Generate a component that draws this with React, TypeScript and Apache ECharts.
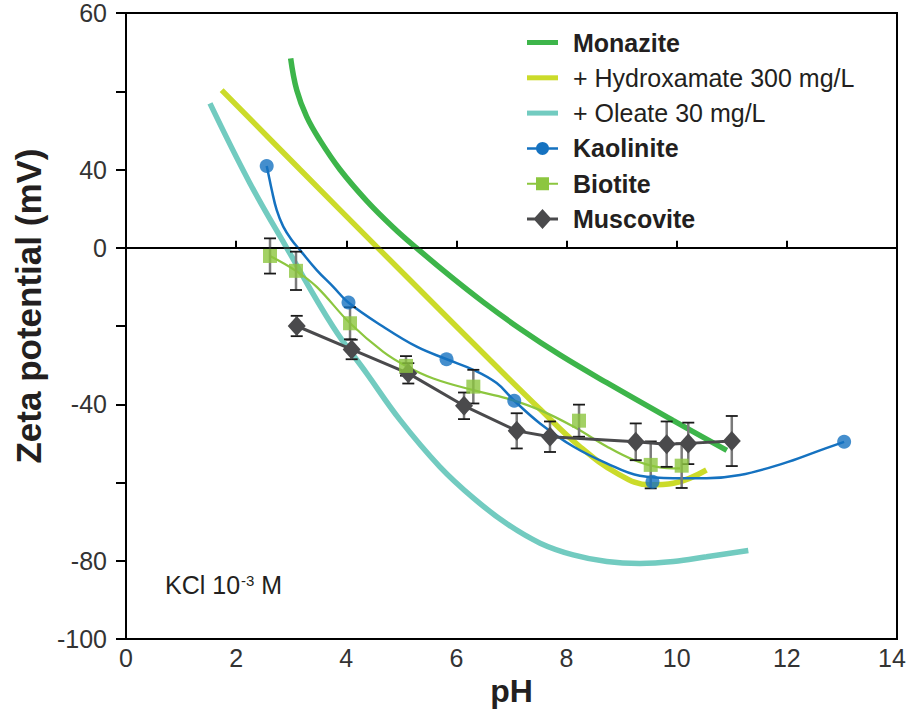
import React, { useEffect, useRef } from 'react';
import * as echarts from 'echarts';

const FONT = "'Liberation Sans', Arial, Helvetica, sans-serif";

// y-axis ticks and the labels printed next to them in the reference
const yTickValues = [-100, -80, -60, -40, -20, 0, 20, 40, 60];
const yTickLabels = ['-100', '-80', '', '-40', '', '0', '40', '', '60'];

// Smooth curves (pH, zeta mV)
const monaziteCurve = [
  [2.99, 48.4], [3.1, 40.3], [3.28, 33.5], [3.52, 27.5], [3.885, 20.0], [4.37, 12.0],
  [4.854, 5.2], [5.279, -0.1], [5.883, -7.2], [6.488, -13.9], [7.155, -20.7], [7.88, -27.4],
  [8.73, -34.5], [9.94, -44.2], [10.91, -51.8],
];
const hydroxamateCurve = [
  [1.737, 40.3], [3.16, 20.0], [4.55, 0.3], [5.7, -15.9], [6.61, -28.7], [7.52, -41.3],
  [8.24, -50.8], [8.91, -57.6], [9.51, -60.6], [9.94, -60.2], [10.54, -56.8],
];
const oleateCurve = [
  [1.525, 36.9], [2.25, 16.5], [2.905, 0.3], [3.76, -20.2], [4.37, -32.1], [4.975, -44.0],
  [5.7, -56.0], [6.31, -64.0], [6.91, -70.5], [7.52, -75.5], [8.12, -78.5], [8.73, -80.2],
  [9.33, -80.7], [9.94, -80.2], [10.54, -79.0], [11.3, -77.4],
];

// Kaolinite: measured points and fitted curve
const kaolinitePoints = [
  [2.555, 20.9], [4.04, -14.0], [5.82, -28.5], [7.05, -39.1], [9.56, -59.8], [13.04, -49.6],
];
const kaoliniteCurve = [
  [2.555, 20.9], [2.584, 19.0], [2.646, 14.8], [2.737, 9.6], [2.856, 5.4], [3.009, 2.0],
  [3.16, -0.6], [3.463, -5.7], [3.764, -10.0], [4.037, -14.0], [4.672, -20.2], [5.279, -25.3],
  [5.823, -28.5], [6.306, -31.2], [6.731, -34.6], [7.051, -39.1], [7.518, -44.9], [8.122, -50.8],
  [8.729, -55.1], [9.33, -58.3], [9.94, -58.9], [10.54, -58.9], [11.15, -58.1], [11.94, -55.1],
  [12.54, -52.1], [13.04, -49.6],
];

// Biotite: measured points, errors and fitted curve
const biotitePoints = [
  [2.615, -2.1], [3.087, -5.9], [4.068, -19.3], [5.084, -30.2], [6.307, -35.5], [8.226, -44.2],
  [9.528, -55.5], [10.09, -55.7],
];
const biotiteErrors = [4.5, 4.9, 4.1, 2.5, 4.3, 4.1, 6.0, 5.7];
const biotiteCurve = [
  [2.615, -2.1], [3.087, -5.9], [3.463, -10.0], [4.068, -19.3], [4.672, -26.6], [5.084, -30.2],
  [5.58, -33.4], [6.307, -36.4], [6.913, -38.5], [7.518, -41.5], [8.122, -45.7], [8.729, -50.8],
  [9.212, -54.2], [9.637, -56.0], [10.06, -56.4],
];

// Muscovite: measured points and errors
const muscovitePoints = [
  [3.1, -20.0], [4.098, -26.0], [5.126, -32.1], [6.138, -40.4], [7.095, -46.8], [7.699, -48.3],
  [9.256, -49.6], [9.818, -50.2], [10.21, -50.0], [11.0, -49.4],
];
const muscoviteErrors = [2.6, 2.5, 2.6, 3.4, 4.5, 3.9, 4.7, 5.8, 5.3, 6.4];

const legendNames = [
  'Monazite', '+ Hydroxamate 300 mg/L', '+ Oleate 30 mg/L', 'Kaolinite', 'Biotite', 'Muscovite',
];
const boldNames = ['Monazite', 'Kaolinite', 'Biotite', 'Muscovite'];

const C_MON = '#3db54a';
const C_HYD = '#cbdb2a';
const C_OLE = '#72cbc0';
const C_KAO = '#1572c0';
const C_BIO = '#8cc63f';
const C_MUS = '#4a4a4c';

function errorBarSeries(name: string, pts: number[][], errs: number[]) {
  return {
    type: 'custom',
    name,
    z: 3,
    dimensions: ['x', 'y', 'e'],
    encode: { x: 0, y: 1 },
    data: pts.map((p, i) => [p[0], p[1], errs[i]]),
    renderItem: (params: any, api: any) => {
      const x = api.value(0);
      const y = api.value(1);
      const e = api.value(2);
      const top = api.coord([x, y + e]);
      const bot = api.coord([x, y - e]);
      const hw = 6;
      return {
        type: 'group',
        children: [
          { type: 'line', shape: { x1: top[0], y1: top[1], x2: bot[0], y2: bot[1] }, style: { stroke: '#7a7a7a', lineWidth: 2.5 } },
          { type: 'line', shape: { x1: top[0] - hw, y1: top[1], x2: top[0] + hw, y2: top[1] }, style: { stroke: '#1a1a1a', lineWidth: 1.8 } },
          { type: 'line', shape: { x1: bot[0] - hw, y1: bot[1], x2: bot[0] + hw, y2: bot[1] }, style: { stroke: '#1a1a1a', lineWidth: 1.8 } },
        ],
      };
    },
  };
}

export default function App() {
  const ref = useRef<HTMLDivElement>(null);
  useEffect(() => {
    const chart = echarts.init(ref.current!, null, { renderer: 'svg' });
    const labelMap: Record<string, string> = {};
    yTickValues.forEach((v, i) => (labelMap[String(v)] = yTickLabels[i]));

    const icons: Record<string, string> = {
      Monazite: 'path://M0,0H31V5H0Z',
      '+ Hydroxamate 300 mg/L': 'path://M0,0H31V5H0Z',
      '+ Oleate 30 mg/L': 'path://M0,0H31V5H0Z',
      Kaolinite: 'path://M0,5.25H31V7.75H0Z M22,6.5A6.5,6.5 0 1 1 9,6.5A6.5,6.5 0 1 1 22,6.5Z',
      Biotite: 'path://M0,6H31V8H0Z M9,0.5H22V13.5H9Z',
      Muscovite: 'path://M0,8.5H31V11.5H0Z M15.5,0L24.5,10L15.5,20L6.5,10Z',
    };

    const option: any = {
      animation: false,
      backgroundColor: '#ffffff',
      grid: {
        left: 126, right: 10, top: 13, bottom: 72,
        show: true, borderColor: '#000', borderWidth: 2, backgroundColor: 'transparent',
        outerBoundsMode: 'none', containLabel: false,
      },
      xAxis: {
        type: 'value', min: 0, max: 14, interval: 2,
        axisLine: { show: true, lineStyle: { color: '#000', width: 2 } },
        axisTick: { show: true, inside: true, length: 7, lineStyle: { color: '#000', width: 2 } },
        axisLabel: {
          fontFamily: FONT, fontSize: 25, color: '#333', margin: 6,
          formatter: (v: number) => (v === 14 ? '{m|14}' : String(v)),
          rich: { m: { fontFamily: FONT, fontSize: 25, color: '#333', padding: [0, 10, 0, 0] } },
        },
        splitLine: { show: false },
        name: 'pH', nameLocation: 'middle', nameGap: 36,
        nameTextStyle: { fontFamily: FONT, fontSize: 32, fontWeight: 'bold', color: '#231f20' },
      },
      yAxis: {
        type: 'value', min: -100, max: 60, interval: 20,
        axisLine: { show: true, lineStyle: { color: '#000', width: 2 } },
        axisTick: { show: true, inside: false, length: 10, lineStyle: { color: '#000', width: 2 } },
        axisLabel: {
          fontFamily: FONT, fontSize: 25, color: '#333', margin: 19,
          formatter: (v: number) => labelMap[String(v)] ?? '',
        },
        splitLine: { show: false },
      },
      legend: {
        orient: 'vertical', left: 527, top: 30, padding: 0,
        itemWidth: 31, itemHeight: 20, itemGap: 10.3, selectedMode: false,
        itemStyle: { borderWidth: 0 },
        data: legendNames.map((n) => ({ name: n, icon: icons[n] })),
        formatter: (name: string) => (boldNames.includes(name) ? `{b|${name}}` : `{r|${name}}`),
        textStyle: {
          fontFamily: FONT, fontSize: 25, color: '#231f20', padding: [0, 0, 0, 10],
          rich: {
            b: { fontFamily: FONT, fontSize: 25, fontWeight: 'bold', color: '#231f20', lineHeight: 25 },
            r: { fontFamily: FONT, fontSize: 25, fontWeight: 'normal', color: '#231f20', lineHeight: 25 },
          },
        },
      },
      graphic: [
        {
          type: 'text', x: 28, y: 306, rotation: Math.PI / 2,
          style: {
            text: 'Zeta potential (mV)', fontFamily: FONT, fontSize: 35, fontWeight: 'bold',
            fill: '#231f20', align: 'center', verticalAlign: 'middle',
          },
        },
        {
          type: 'text', x: 165, y: 585,
          style: {
            text: '{a|KCl 10}{s|-3}{a| M}', fontFamily: FONT, fontSize: 25, fill: '#231f20',
            verticalAlign: 'middle', align: 'left',
            rich: {
              a: { fontFamily: FONT, fontSize: 25, lineHeight: 29, fill: '#231f20' },
              s: { fontFamily: FONT, fontSize: 15, lineHeight: 15, verticalAlign: 'top', padding: [2, 0, 0, 1], fill: '#231f20' },
            },
          },
        },
      ],
      series: [
        {
          type: 'line', name: 'Monazite', data: monaziteCurve, smooth: 0.4, symbol: 'none', z: 2,
          color: C_MON, lineStyle: { color: C_MON, width: 5.5 },
          markLine: {
            silent: true, symbol: ['none', 'none'], label: { show: false },
            lineStyle: { color: '#000', width: 1.5, type: 'solid' },
            data: [{ yAxis: 0 }],
          },
        },
        {
          type: 'line', name: '+ Hydroxamate 300 mg/L', data: hydroxamateCurve, smooth: 0.4, symbol: 'none', z: 2,
          color: C_HYD, lineStyle: { color: C_HYD, width: 5.5 },
        },
        {
          type: 'line', name: '+ Oleate 30 mg/L', data: oleateCurve, smooth: 0.4, symbol: 'none', z: 2,
          color: C_OLE, lineStyle: { color: C_OLE, width: 5.5 },
        },
        {
          type: 'line', name: 'Kaolinite', data: kaoliniteCurve, smooth: 0.4, symbol: 'none', z: 2,
          color: C_KAO, lineStyle: { color: C_KAO, width: 2.5 },
        },
        {
          type: 'line', name: 'Biotite', data: biotiteCurve, smooth: 0.4, symbol: 'none', z: 2,
          color: C_BIO, lineStyle: { color: C_BIO, width: 2.2 },
        },
        errorBarSeries('biotite-err', biotitePoints, biotiteErrors),
        errorBarSeries('muscovite-err', muscovitePoints, muscoviteErrors),
        {
          type: 'line', name: 'Muscovite', data: muscovitePoints, smooth: false, z: 4,
          symbol: 'diamond', symbolSize: [18, 20], showSymbol: true,
          color: C_MUS, itemStyle: { color: C_MUS }, lineStyle: { color: C_MUS, width: 3 },
        },
        {
          type: 'scatter', name: 'Kaolinite', data: kaolinitePoints, z: 5,
          symbol: 'circle', symbolSize: 14, color: C_KAO, itemStyle: { color: C_KAO },
        },
        {
          type: 'scatter', name: 'Biotite', data: biotitePoints, z: 5,
          symbol: 'rect', symbolSize: 14, color: C_BIO, itemStyle: { color: C_BIO },
        },
      ],
    };
    chart.setOption(option);
    return () => chart.dispose();
  }, []);
  return (
    <div
      ref={ref}
      style={{ position: 'fixed', left: 0, top: 0, width: 907, height: 711, background: '#fff' }}
    />
  );
}
